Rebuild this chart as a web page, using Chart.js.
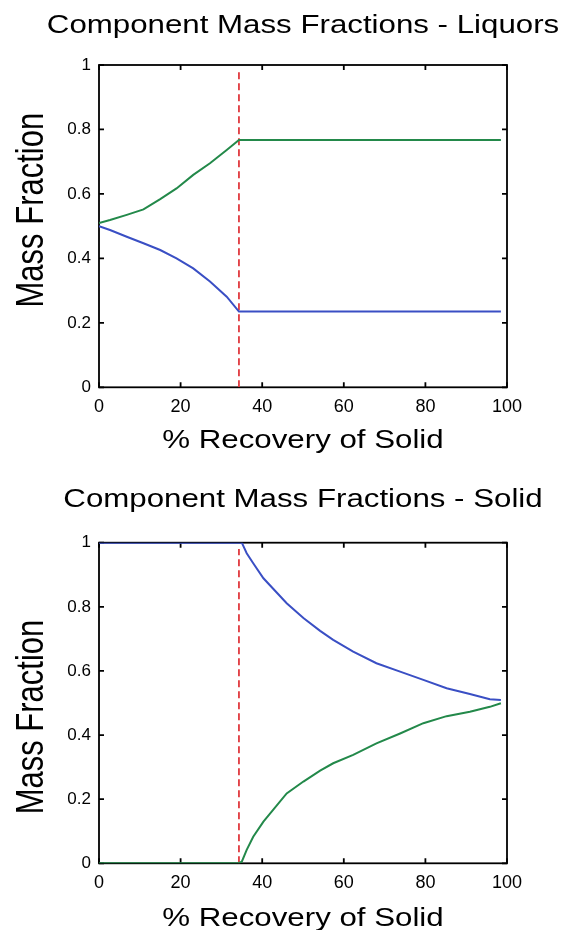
<!DOCTYPE html>
<html>
<head>
<meta charset="utf-8">
<script src="https://cdn.jsdelivr.net/npm/chart.js@4.4.0/dist/chart.umd.min.js"></script>
<style>
  body { margin: 0; background: #fff; }
  canvas { display: block; }
</style>
</head>
<body>
<canvas id="liquorChart" width="564" height="460"></canvas>
<canvas id="solidChart" width="564" height="470"></canvas>
<script>
// Data
const xTicks = [0, 20, 40, 60, 80, 100];
const yTicks = [0, 0.2, 0.4, 0.6, 0.8, 1];
const cutRecovery = 34.3;   // garis putus-putus merah
const cutLine = [0, 0.98];

// Liquors
const liqX     = [0, 2.7, 6.8, 10.9, 15, 19, 23.1, 27.2, 31.3, 34.3, 98.5];
const liqGreen = [0.51, 0.519, 0.535, 0.552, 0.584, 0.617, 0.659, 0.695, 0.736, 0.767, 0.767];
const liqBlue  = [0.50, 0.488, 0.467, 0.447, 0.426, 0.400, 0.369, 0.328, 0.281, 0.235, 0.235];

// Solid
const solX     = [0, 34.1, 35.0, 36.2, 37.8, 40.3, 46.0, 50.1, 54.2, 57.4, 62.3, 68.0, 73.8, 79.5, 85.2, 90.9, 95.8, 98.5];
const solBlue  = [1, 1, 1, 0.967, 0.936, 0.889, 0.811, 0.765, 0.725, 0.697, 0.660, 0.624, 0.598, 0.572, 0.546, 0.528, 0.512, 0.509];
const solGreen = [0, 0, 0.005, 0.042, 0.083, 0.130, 0.218, 0.255, 0.289, 0.312, 0.338, 0.374, 0.405, 0.437, 0.459, 0.473, 0.488, 0.499];

const FONT = '"Liberation Sans", Arial, sans-serif';
const GREEN = '#23894a';
const BLUE = '#3a4fc4';
const RED = '#e0393e';

const toPoints = (xs, ys) => xs.map((x, i) => ({ x: x, y: ys[i] }));

// Bingkai + tick ke dalam ala MATLAB, dan teks judul
const matlabFrame = {
  id: 'matlabFrame',
  beforeDatasetsDraw(chart) {
    const { ctx, chartArea: a, scales: { x, y } } = chart;
    ctx.save();
    ctx.strokeStyle = '#000';
    ctx.lineWidth = 1.8;
    ctx.strokeRect(a.left, a.top, a.right - a.left, a.bottom - a.top);
    ctx.beginPath();
    x.ticks.forEach(t => {
      const px = x.getPixelForValue(t.value);
      ctx.moveTo(px, a.bottom); ctx.lineTo(px, a.bottom - 5);
      ctx.moveTo(px, a.top); ctx.lineTo(px, a.top + 5);
    });
    y.ticks.forEach(t => {
      const py = y.getPixelForValue(t.value);
      ctx.moveTo(a.left, py); ctx.lineTo(a.left + 5, py);
      ctx.moveTo(a.right, py); ctx.lineTo(a.right - 5, py);
    });
    ctx.stroke();
    ctx.restore();
  },
  afterDraw(chart, args, opts) {
    const { ctx, chartArea: a } = chart;
    const cx = (a.left + a.right) / 2;
    const cy = (a.top + a.bottom) / 2;
    ctx.save();
    ctx.fillStyle = '#000';
    ctx.textAlign = 'center';
    ctx.textBaseline = 'alphabetic';

    ctx.font = '25px ' + FONT;
    ctx.save();
    ctx.translate(cx, a.top - opts.titleGap);
    ctx.scale(1.25, 1);
    ctx.fillText(opts.title, 0, 0);
    ctx.restore();

    ctx.save();
    ctx.translate(cx, a.bottom + opts.xTitleGap);
    ctx.scale(1.25, 1);
    ctx.fillText(opts.xTitle, 0, 0);
    ctx.restore();

    ctx.font = '31px ' + FONT;
    ctx.save();
    ctx.translate(43, cy + opts.yTitleShift);
    ctx.rotate(-Math.PI / 2);
    ctx.scale(1, 1.25);
    ctx.fillText(opts.yTitle, 0, 0);
    ctx.restore();

    ctx.restore();
  }
};

function makeChart(id, title, series, layoutCfg) {
  const ctx = document.getElementById(id).getContext('2d');
  return new Chart(ctx, {
    type: 'line',
    data: {
      datasets: [
        ...series.map(s => ({
          label: s.label,
          data: toPoints(s.x, s.y),
          borderColor: s.color,
          borderWidth: 2,
          pointRadius: 0,
          tension: 0
        })),
        {
          label: 'Batas',
          data: toPoints([cutRecovery, cutRecovery], cutLine),
          borderColor: RED,
          borderWidth: 1.8,
          borderDash: [7, 4],
          pointRadius: 0
        }
      ]
    },
    options: {
      responsive: false,
      animation: false,
      layout: { padding: { top: layoutCfg.top, right: 57, bottom: 0, left: 0 } },
      plugins: {
        legend: { display: false },
        tooltip: { enabled: false },
        matlabFrame: {
          title: title,
          xTitle: '% Recovery of Solid',
          yTitle: 'Mass Fraction',
          titleGap: layoutCfg.titleGap,
          xTitleGap: layoutCfg.xTitleGap,
          yTitleShift: layoutCfg.yTitleShift
        }
      },
      scales: {
        x: {
          type: 'linear',
          min: xTicks[0],
          max: xTicks[xTicks.length - 1],
          afterBuildTicks: s => { s.ticks = xTicks.map(v => ({ value: v })); },
          ticks: { color: '#000', font: { family: FONT, size: 18 }, padding: 9, maxRotation: 0, callback: v => String(v) },
          grid: { display: false, drawTicks: false },
          border: { display: false },
          afterFit: s => { s.height = layoutCfg.xHeight; }
        },
        y: {
          type: 'linear',
          min: yTicks[0],
          max: yTicks[yTicks.length - 1],
          afterBuildTicks: s => { s.ticks = yTicks.map(v => ({ value: v })); },
          ticks: { color: '#000', font: { family: FONT, size: 17 }, padding: 8, callback: v => String(v) },
          grid: { display: false, drawTicks: false },
          border: { display: false },
          afterFit: s => { s.width = 99; }
        }
      }
    },
    plugins: [matlabFrame]
  });
}

makeChart('liquorChart', 'Component Mass Fractions - Liquors', [
  { label: 'Komponen 1', x: liqX, y: liqBlue, color: BLUE },
  { label: 'Komponen 2', x: liqX, y: liqGreen, color: GREEN }
], { top: 65, xHeight: 72.7, titleGap: 32, xTitleGap: 60.7, yTitleShift: -16 });

makeChart('solidChart', 'Component Mass Fractions - Solid', [
  { label: 'Komponen 1', x: solX, y: solBlue, color: BLUE },
  { label: 'Komponen 2', x: solX, y: solGreen, color: GREEN }
], { top: 82.7, xHeight: 66.7, titleGap: 35.7, xTitleGap: 62.7, yTitleShift: 14 });
</script>
</body>
</html>
